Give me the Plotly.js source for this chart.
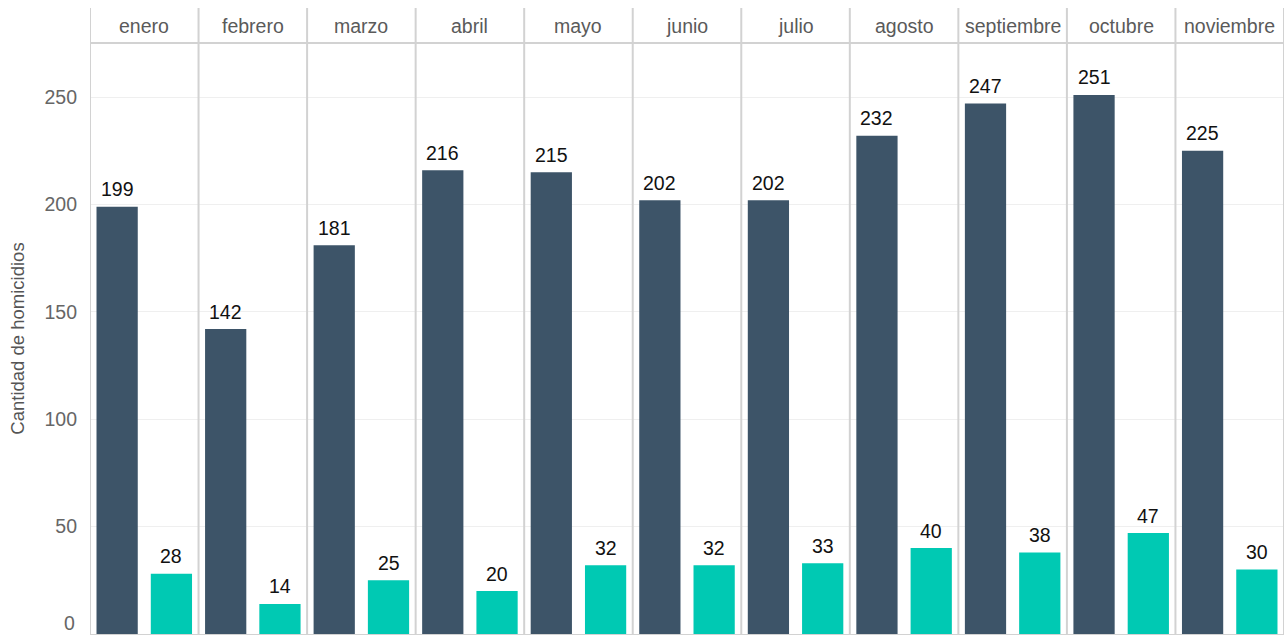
<!DOCTYPE html>
<html>
<head>
<meta charset="utf-8">
<script src="https://cdn.plot.ly/plotly-3.0.1.min.js"></script>
<style>html,body{margin:0;padding:0;background:#fff;}#chart{width:1286px;height:635px;}</style>
</head>
<body>
<div id="chart"></div>
<script>
var months = ["enero","febrero","marzo","abril","mayo","junio","julio","agosto","septiembre","octubre","noviembre"];
var seriesA = [199, 142, 181, 216, 215, 202, 202, 232, 247, 251, 225];
var seriesB = [28, 14, 25, 20, 32, 32, 33, 40, 38, 47, 30];
var yTicks = [50, 100, 150, 200, 250];

var centers = months.map(function(m, i){ return i + 0.5; });
var FONT = '"Liberation Sans", Arial, sans-serif';

var traceA = {
  type: 'bar', x: centers, y: seriesA, name: 'A',
  marker: {color: '#3d5468'}, hoverinfo: 'y'
};
var traceB = {
  type: 'bar', x: centers, y: seriesB, name: 'B',
  marker: {color: '#00c9b3'}, hoverinfo: 'y'
};

var plotH = 635 - 43 - 1;
var headTop = 1 + 35 / plotH;
var shapes = [];
for (var k = 0; k <= months.length; k++) {
  shapes.push({type: 'line', xref: 'x', yref: 'paper', x0: k, x1: k, y0: 0, y1: headTop,
    line: {color: '#d2d2d2', width: 2}, layer: 'above'});
}
shapes.push({type: 'line', xref: 'x', yref: 'paper', x0: 0, x1: months.length, y0: 1, y1: 1,
  line: {color: '#d2d2d2', width: 2}});

var annotations = months.map(function(m, i){
  return {text: m, x: i + 0.5, xref: 'x', y: 1, yref: 'paper', yanchor: 'middle', yshift: 17,
    showarrow: false, font: {family: FONT, size: 19.5, color: '#5a5a5a'}};
});
// value labels above bars (group offsets of the two series within each month)
function addLabels(vals, off) {
  vals.forEach(function(v, i){
    annotations.push({text: String(v), x: i + off, xref: 'x', y: v, yref: 'y',
      yanchor: 'bottom', yshift: 4.5, showarrow: false,
      font: {family: FONT, size: 19.5, color: '#111'}});
  });
}
addLabels(seriesA, 0.25);
addLabels(seriesB, 0.75);
annotations.push({text: '0', x: 0, xref: 'paper', xanchor: 'right', xshift: -13, y: 0, yref: 'y',
  yanchor: 'middle', yshift: 11, showarrow: false, font: {family: FONT, size: 19.5, color: '#666'}});

var layout = {
  width: 1286, height: 635,
  margin: {l: 90, r: 2, t: 43, b: 1},
  paper_bgcolor: '#fff', plot_bgcolor: '#fff',
  barmode: 'group', bargap: 0, bargroupgap: 0.24,
  showlegend: false,
  xaxis: {range: [0, months.length], showticklabels: false, showgrid: false, zeroline: false,
    showline: true, linecolor: '#d2d2d2', linewidth: 2, fixedrange: true},
  yaxis: {range: [0, 275.2], tickvals: yTicks, ticktext: yTicks.map(String),
    tickfont: {family: FONT, size: 19.5, color: '#666'}, ticks: '', ticklabelstandoff: 12,
    showgrid: true, gridcolor: '#efefef', gridwidth: 1, zeroline: false, showline: false,
    title: {text: 'Cantidad de homicidios', font: {family: FONT, size: 18.5, color: '#555'}, standoff: 14},
    fixedrange: true},
  shapes: shapes,
  annotations: annotations,
  font: {family: FONT}
};

Plotly.newPlot('chart', [traceA, traceB], layout, {displayModeBar: false, staticPlot: true});
</script>
</body>
</html>
